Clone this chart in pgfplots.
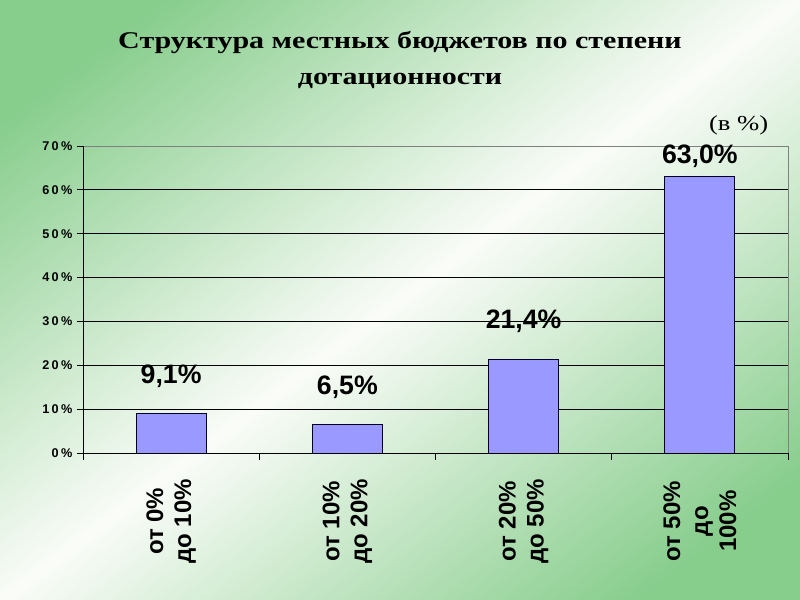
\documentclass[border=0pt]{standalone}
\usepackage{fontspec}
\setmainfont{Liberation Sans}
\newfontfamily\titlefont[FakeStretch=1.25]{Liberation Serif}
\newfontfamily\tickfont[LetterSpace=18]{Liberation Sans}
\usepackage{pgfplots}
\usepackage{pgfplotstable}
\pgfplotsset{compat=1.18}
\definecolor{bgg}{RGB}{135,205,140}
\definecolor{bgw}{RGB}{250,252,248}
\definecolor{barc}{RGB}{153,153,255}
\pgfdeclareverticalshading{slide}{100bp}{color(0bp)=(bgg); color(22bp)=(bgg);
  color(50bp)=(bgw); color(78bp)=(bgg); color(100bp)=(bgg)}

% x = category, y = share (%), off = label lift above bar (pt)
\pgfplotstableread{
x y off
0 9.1 27.75
1 6.5 27.75
2 21.4 28.5
3 63.0 15
}\budget

\begin{document}
\begin{tikzpicture}
\shade[shading=slide, shading angle=37] (0,0) rectangle (600pt,450pt);
\useasboundingbox (0,0) rectangle (600pt,450pt);
\node[font=\titlefont\bfseries\fontsize{18}{27}\selectfont, align=center]
  at (300pt,405pt) {Структура местных бюджетов по степени\\дотационности};
\node[font=\titlefont\fontsize{16}{18}\selectfont] at (554pt,356.25pt) {(в \%)};
\begin{axis}[
    at={(62.25pt,110.25pt)}, anchor=south west,
    scale only axis, width=528.75pt, height=230.25pt,
    xmin=-0.5, xmax=3.5, ymin=0, ymax=70,
    /pgf/number format/assume math mode=true,
    ytick={0,10,...,70},
    yticklabel={\pgfmathprintnumber{\tick}\%},
    yticklabel style={font=\tickfont\bfseries\fontsize{9.5}{11}\selectfont},
    ymajorgrids, grid style={black, line width=0.75pt},
    tick pos=left, tick align=outside, major tick length=4.5pt,
    tick style={black, line width=0.75pt},
    axis line style={gray, line width=0.75pt},
    xtick={0,1,2,3},
    xtick style={draw=none},
    xticklabels={{от 0\%\\до 10\%},{от 10\%\\до 20\%},{от 20\%\\до 50\%},{от 50\%\\до\\100\%}},
    xticklabel style={rotate=90, anchor=east, minimum width=93pt, inner sep=0pt,
      align=center, font=\bfseries\fontsize{18}{21}\selectfont},
    extra x ticks={-0.5,0.5,1.5,2.5,3.5},
    extra x tick labels={},
    extra x tick style={major tick length=5.25pt, tick align=outside, grid=none,
      xtick style={draw=black}},
]
\addplot[ybar, bar width=52.5pt, fill=barc, draw=black!85!blue, line width=0.75pt,
    nodes near coords={\pgfmathprintnumber[fixed,fixed zerofill,precision=1,use comma]{\pgfplotspointmeta}\%},
    visualization depends on={\thisrow{off}\as\off},
    every node near coord/.append style={anchor=center, yshift=\off pt,
      font=\bfseries\fontsize{20}{24}\selectfont, text=black}]
  table[x=x, y=y] {\budget};
\draw[gray, line width=0.75pt] (rel axis cs:0,1) -- (rel axis cs:1,1) -- (rel axis cs:1,0);
\draw[black, line width=0.75pt] (rel axis cs:0,1) -- (rel axis cs:0,0) -- (rel axis cs:1,0);
\end{axis}
\end{tikzpicture}
\end{document}
